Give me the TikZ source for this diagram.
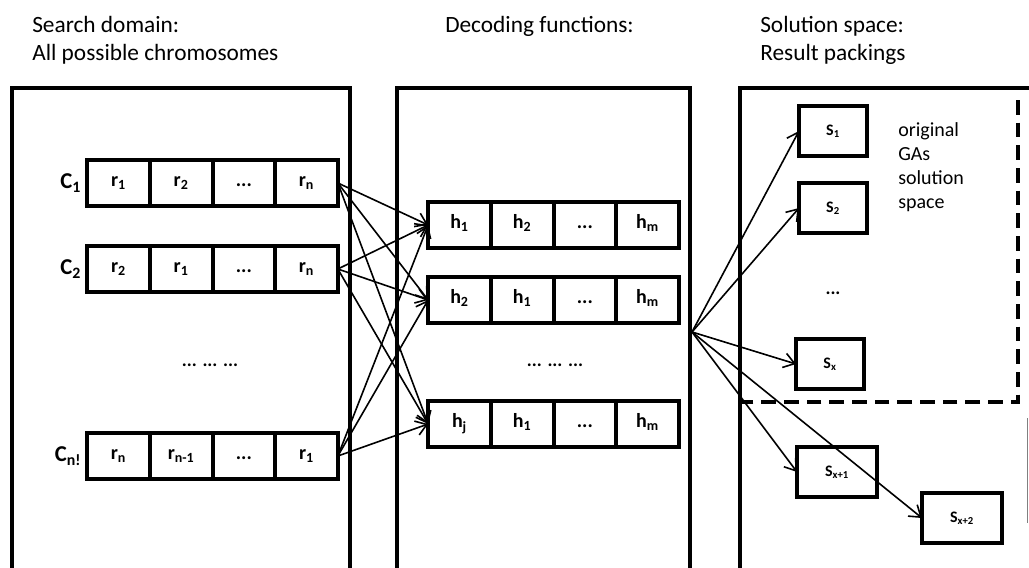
\documentclass[tikz,border=0pt]{standalone}
\usepackage{fontspec}
\setmainfont{Carlito}
\usetikzlibrary{positioning,arrows.meta}
\newcommand{\sbs}[1]{\textsubscript{#1}}
\tikzset{
  panel/.style = {line width=3.4pt},
  cell/.style = {draw, line width=3pt, outer sep=0pt, inner sep=0pt, text height=1.5ex, text depth=.3ex,
                 minimum width=47pt, minimum height=34pt, font=\fontsize{15}{17}\selectfont\bfseries},
  sbox/.style = {draw, line width=3pt, outer sep=0pt, inner sep=0pt,
                 minimum width=51pt, minimum height=38pt, font=\fontsize{12}{14}\selectfont\bfseries},
  title/.style = {anchor=base west, inner sep=0pt, font=\fontsize{17.5}{21}\selectfont},
  arr/.style = {-{Straight Barb[length=8pt,width=11pt]}, line width=1.2pt}
}
\begin{document}
\begin{tikzpicture}[x=0.75pt, y=-0.75pt]
\useasboundingbox (0, 0) rectangle (1029, 568);
% titles
\node[title] (t1a) at (32, 32) {Search domain:};
\node[title] (t1b) at (32, 60) {All possible chromosomes};
\node[title] (t2a) at (445, 32) {Decoding functions:};
\node[title] (t3a) at (760, 32) {Solution space:};
\node[title] (t3b) at (760, 60) {Result packings};
% panels
\draw[panel] (12, 568) -- (12, 88) -- (350, 88) -- (350, 568);
\draw[panel] (397, 568) -- (397, 88) -- (690, 88) -- (690, 568);
\draw[panel] (740, 568) -- (740, 88) -- (1029, 88);
\draw[line width=0.6pt, gray] (1027, 418) -- (1027, 523);
\draw[line width=3pt, dash pattern=on 11pt off 6pt] (1018, 100) -- (1018, 402) -- (741, 402);
% chromosomes
\foreach \row/\y/\lab/\a/\b/\d in {1/183/1/1/2/n, 2/269/2/2/1/n, 3/456/n!/n/n-1/1}{
  \node[cell] (c\row-1) at (118.5, \y) {r\sbs{\a}};
  \node[cell, right=0pt of c\row-1] (c\row-2) {r\sbs{\b}};
  \node[cell, right=0pt of c\row-2] (c\row-3) {...};
  \node[cell, right=0pt of c\row-3] (c\row-4) {r\sbs{\d}};
  \node[left=1pt of c\row-1, font=\fontsize{17}{19}\selectfont\bfseries] (lab\row) {C\sbs{\lab}};
}
\node[font=\fontsize{14}{16}\selectfont\bfseries] (dots1) at (210, 365) {... ... ...};
% decoding functions
\foreach \row/\y/\a/\b in {1/225/1/2, 2/300/2/1, 3/424/j/1}{
  \node[cell] (h\row-1) at (459.5, \y) {h\sbs{\a}};
  \node[cell, right=0pt of h\row-1] (h\row-2) {h\sbs{\b}};
  \node[cell, right=0pt of h\row-2] (h\row-3) {...};
  \node[cell, right=0pt of h\row-3] (h\row-4) {h\sbs{m}};
}
\node[font=\fontsize{14}{16}\selectfont\bfseries] (dots2) at (555, 365) {... ... ...};
\foreach \i in {1,2,3}
  \foreach \j in {1,2,3}
    \draw[arr] (c\i-4.east) -- (h\j-1.west);
% solutions
\node[sbox] (s1) at (833, 131) {S\sbs{1}};
\node[sbox] (s2) at (833, 208) {S\sbs{2}};
\node[sbox] (sx) at (830, 364) {S\sbs{x}};
\node[sbox, minimum width=60pt, minimum height=37pt] (sx1) at (837, 472) {S\sbs{x+1}};
\node[sbox, minimum width=60pt, minimum height=37pt] (sx2) at (962, 518) {S\sbs{x+2}};
\node[font=\fontsize{14}{16}\selectfont\bfseries] (dots3) at (833, 293) {...};
\node[align=left, anchor=north west, inner sep=0pt, font=\fontsize{15}{18}\selectfont] (orig) at (898, 122)
  {original\\GAs\\solution\\space};
\coordinate (out) at (692, 332);
\foreach \s in {s1, s2, sx, sx1, sx2}
  \draw[arr] (out) -- (\s.west);
\end{tikzpicture}
\end{document}
